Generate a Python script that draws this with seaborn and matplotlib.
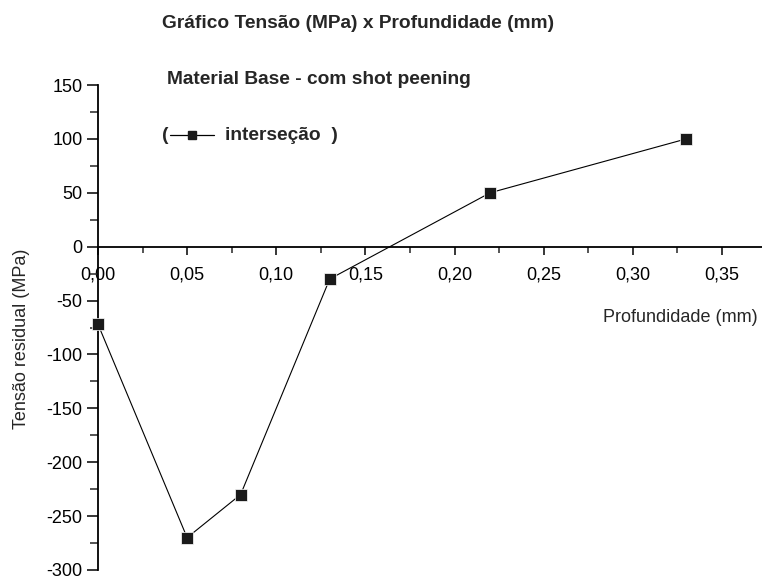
import matplotlib
matplotlib.use("Agg")
import matplotlib.pyplot as plt
from matplotlib.ticker import MultipleLocator, FuncFormatter
from matplotlib.lines import Line2D
import seaborn as sns
import pandas as pd

# Residual stress profile (base material, shot peened)
profundidade = [0.00, 0.05, 0.08, 0.13, 0.22, 0.33]
tensao = [-72, -270, -230, -30, 50, 100]

titulo = "Gráfico Tensão (MPa) x Profundidade (mm)"
subtitulo = "Material Base - com shot peening"
serie = "interseção"
xlabel = "Profundidade (mm)"
ylabel = "Tensão residual (MPa)"

sns.set_style("ticks")
plt.rcParams["font.family"] = ["Liberation Sans", "DejaVu Sans"]

df = pd.DataFrame({"x": profundidade, "y": tensao})

fig = plt.figure(figsize=(7.62, 5.80), dpi=100)
ax = fig.add_axes([98 / 762, 1 - 570 / 580, 1 - 98 / 762, (570 - 85) / 580])

sns.lineplot(data=df, x="x", y="y", ax=ax, color="black", linewidth=0.8,
             marker="s", markersize=8.5, markerfacecolor="#1a1a1a",
             markeredgecolor="white", markeredgewidth=0.5)
for ln in ax.lines:
    ln.set_clip_on(False)
    ln.set_zorder(5)

ax.set_xlim(0, 0.3725)
ax.set_ylim(-300, 150)

# Origin-style crossed axes
ax.spines["left"].set_position(("data", 0))
ax.spines["bottom"].set_position(("data", 0))
ax.spines["top"].set_visible(False)
ax.spines["right"].set_visible(False)
for s in ("left", "bottom"):
    ax.spines[s].set_linewidth(1.3)
    ax.spines[s].set_color("black")

ax.xaxis.set_major_locator(MultipleLocator(0.05))
ax.xaxis.set_minor_locator(MultipleLocator(0.025))
ax.yaxis.set_major_locator(MultipleLocator(50))
ax.yaxis.set_minor_locator(MultipleLocator(25))
ax.xaxis.set_major_formatter(FuncFormatter(lambda v, p: f"{v:.2f}".replace(".", ",")))
ax.yaxis.set_major_formatter(FuncFormatter(lambda v, p: f"{v:.0f}"))

ax.tick_params(axis="both", which="major", direction="out", width=1.1,
               labelsize=13, colors="black")
ax.tick_params(axis="y", which="major", length=8, pad=3)
ax.tick_params(axis="y", which="minor", length=5.5, width=1.1)
ax.tick_params(axis="x", which="major", length=5.5, pad=9)
ax.tick_params(axis="x", which="minor", length=4, width=1.1)

ax.set_xlabel("")
ax.set_ylabel("")

# Texts in figure pixel coordinates
W, H = 762, 580
def fx(px):
    return px / W
def fy(py):
    return 1 - py / H

fig.text(fx(358), fy(24), titulo, ha="center", va="center",
         fontsize=13.8, fontweight="bold")
fig.text(fx(167), fy(79), subtitulo, ha="left", va="center",
         fontsize=13.8, fontweight="bold")
fig.text(fx(162), fy(135), "(", ha="left", va="center",
         fontsize=13.8, fontweight="bold")
fig.add_artist(Line2D([fx(170), fx(214)], [fy(135), fy(135)],
                      transform=fig.transFigure, color="black", linewidth=0.9))
fig.add_artist(Line2D([fx(192)], [fy(135)], transform=fig.transFigure,
                      marker="s", markersize=6, color="#1a1a1a", linestyle="none"))
fig.text(fx(225), fy(135), serie + "  )", ha="left", va="center",
         fontsize=13.8, fontweight="bold")

fig.text(fx(758), fy(317), xlabel, ha="right", va="center", fontsize=13)
fig.text(fx(22), fy(339), ylabel, ha="center", va="center",
         rotation=90, fontsize=13)

fig.savefig("out.png", dpi=100)
